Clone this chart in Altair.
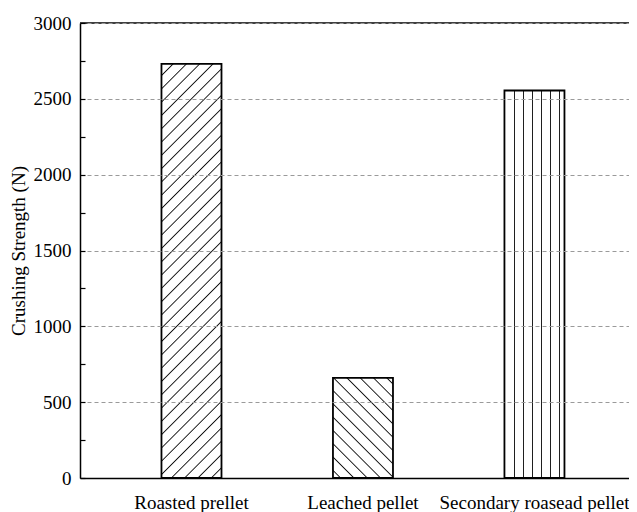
import altair as alt
import pandas as pd

# ---- data ----
categories = ["Roasted prellet", "Leached pellet", "Secondary roasead pellet"]
strength = [2730, 660, 2555]
y_ticks_major = [0, 500, 1000, 1500, 2000, 2500, 3000]
y_ticks_minor = list(range(0, 3001, 250))

# ---- layout constants ----
W, H = 549, 455
YMAX = 3000
P_IN, P_OUT, ALIGN = 0.65, 0.4257, 0.558
FONT = "Liberation Serif"

df = pd.DataFrame({"cat": categories, "value": strength})

step = W / (len(categories) - P_IN + 2 * P_OUT)
bw = step * (1 - P_IN)
heights = [v / YMAX * H for v in strength]


def stripe_stops(centers, span, half, color="#111111"):
    stops = [{"offset": 0, "color": "white"}]
    last = 0.0
    for c in sorted(centers):
        a, b, d = (c - half) / span, c / span, (c + half) / span
        if d <= 0 or a >= 1:
            continue
        for off, col in ((a, "white"), (b, color), (d, "white")):
            off = min(max(off, last), 1.0)
            if 0 <= off <= 1:
                stops.append({"offset": off, "color": col})
                last = off
    stops.append({"offset": 1, "color": "white"})
    return stops


def diag_grad(w, h, spacing, phase, kind):
    span = w + h
    k = (w + h) / (w * w + h * h)
    start = phase % spacing
    centers = []
    c = start
    while c < span:
        centers.append(c)
        c += spacing
    stops = stripe_stops(centers, span, 1.3)
    if kind == "fwd":  # "/" lines: isolines of x + y
        return {"gradient": "linear", "x1": 0, "y1": 0, "x2": k * w, "y2": k * h, "stops": stops}
    else:  # "\" lines: isolines of x - y
        return {"gradient": "linear", "x1": 0, "y1": 1, "x2": k * w, "y2": 1 - k * h, "stops": stops}


def vert_grad(w, spacing, first):
    centers = []
    c = first
    while c < w - 2:
        centers.append(c)
        c += spacing
    return {"gradient": "linear", "x1": 0, "y1": 0, "x2": 1, "y2": 0,
            "stops": stripe_stops(centers, w, 0.9)}


fills = [
    diag_grad(bw, heights[0], 13.3, 11.6, "fwd"),
    diag_grad(bw, heights[1], 13.3, 14.0 + heights[1], "back"),
    vert_grad(bw, 9.0, 10.0),
]

yscale = alt.Scale(domain=[0, YMAX], nice=False, zero=True)
xscale = alt.Scale(domain=categories, paddingInner=P_IN, paddingOuter=P_OUT, align=ALIGN)

x_axis = alt.Axis(title=None, labelAngle=0, ticks=False, domainColor="black", domainWidth=1.5,
                  labelPadding=30, labelBaseline="alphabetic", labelFont=FONT,
                  labelFontSize=19, labelColor="black",
                  labelLimit=0, grid=False, zindex=2)

y_axis_main = alt.Axis(orient="left", values=y_ticks_major, format="d",
                       title="Crushing Strength (N)",
                       grid=True, gridDash=[4, 3], gridColor="#9a9a9a", gridWidth=1,
                       ticks=False, labelPadding=9, domainColor="black", domainWidth=1.5,
                       labelFont=FONT, labelFontSize=19, labelColor="black",
                       titleFont=FONT, titleFontSize=19, titleFontWeight="normal",
                       titleColor="black", titleX=-52, zindex=2)

y_axis_ticks = alt.Axis(orient="right", offset=-W, values=y_ticks_minor, labels=False,
                        domain=False, grid=False, ticks=True, tickSize=5, tickColor="black",
                        tickWidth=1.2, title=None, zindex=2)

base = alt.Chart(df)

layers = []
for i, cat in enumerate(categories):
    layer = base.transform_filter(alt.datum.cat == cat).mark_bar(
        fill=fills[i], stroke="black", strokeWidth=1.8
    ).encode(
        x=alt.X("cat:N", sort=categories, scale=xscale, axis=x_axis),
        y=alt.Y("value:Q", scale=yscale, axis=y_axis_main if i == 0 else None),
    )
    layers.append(layer)

top_line = alt.Chart(pd.DataFrame({"top": [YMAX]})).mark_rule(
    color="black", strokeWidth=1.5
).encode(y=alt.Y("top:Q", scale=yscale, axis=y_axis_ticks))
layers.append(top_line)

chart = alt.layer(*layers).resolve_axis(y="independent").resolve_scale(y="shared").properties(
    width=W, height=H,
    autosize=alt.AutoSizeParams(type="none"),
    padding={"left": 72, "top": 15, "right": 0, "bottom": 34},
    background="white",
).configure_view(stroke=None)

chart.save("out.html", embed_options={"renderer": "svg", "actions": False})
